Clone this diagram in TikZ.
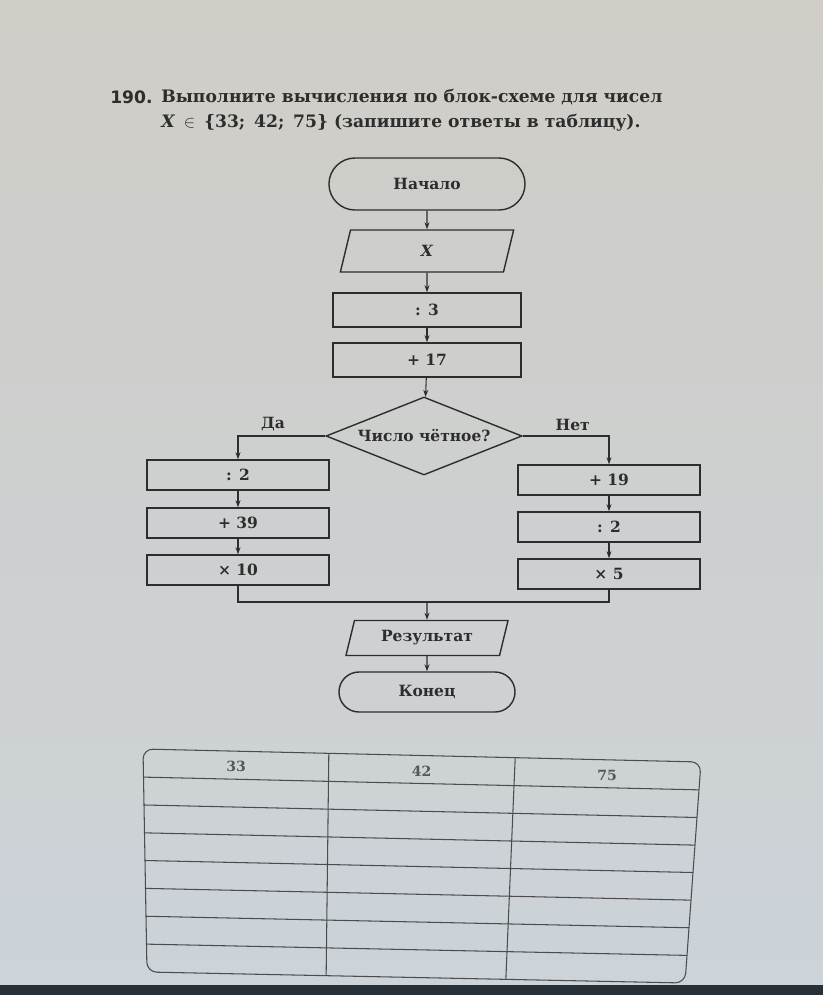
\documentclass[tikz,border=0pt]{standalone}
\usepackage{fontspec}
\setmainfont{DejaVu Serif}
\newfontfamily\numfont{DejaVu Sans}
\usepackage{xcolor}
\usepackage{tikz}
\usetikzlibrary{arrows.meta, positioning, shapes.geometric, calc}

\definecolor{ink}{RGB}{45,45,45}
\definecolor{pagetop}{RGB}{207,205,198}
\definecolor{pagemid}{RGB}{223,225,224}
\definecolor{pagebot}{RGB}{204,211,217}
\definecolor{bezel}{RGB}{38,48,54}

\begin{document}
\begin{tikzpicture}[x=0.025cm, y=-0.025cm,
    sbox/.style={draw=ink, line width=1pt, inner sep=0pt, text=ink,
                 font=\fontsize{11}{13}\selectfont\bfseries},
    wbox/.style={sbox, minimum width=4.7cm, minimum height=0.85cm},
    lbox/.style={sbox, minimum width=4.55cm, minimum height=0.75cm},
    tbox/.style={sbox, rounded corners=0.5cm, minimum width=4.4cm, minimum height=1.0cm},
    iobox/.style={sbox, trapezium, trapezium stretches body},
    dbox/.style={draw=ink, line width=1pt, diamond, inner sep=0pt,
                 minimum width=4.9cm, minimum height=1.95cm},
    myarr/.style={-{Stealth[length=5pt,width=3.5pt]}, line width=0.75pt, draw=ink},
    tline/.style={draw=ink!85, line width=0.75pt},
    hnum/.style={font=\fontsize{10}{12}\selectfont\bfseries, text=ink!80, inner sep=0pt},
    ttl/.style={anchor=west, inner sep=0pt, text=ink, font=\fontsize{12.2}{14}\selectfont\bfseries},
]
\useasboundingbox (0,0) rectangle (823,995);
%% -- Page (photo background) --
\shade[top color=pagetop, middle color=pagemid, bottom color=pagebot] (0,0) rectangle (823,985);
\fill[bezel] (0,985) rectangle (823,995);
%% -- Task text --
\node[ttl, font=\numfont\fontsize{12.2}{14}\selectfont\bfseries] (num) at (110,97){190.};
\node[ttl] (ttl1) at (161,97){Выполните вычисления по блок-схеме для чисел};
\node[ttl] (ttl2) at (161,123){\textit{X}\, $\in$\, \{33;\, 42;\, 75\} (запишите ответы в таблицу).};
%% -- Main column --
\node[tbox, minimum width=4.9cm, minimum height=1.3cm, rounded corners=0.65cm] (start) at (427,184){Начало};
\node[iobox, minimum width=4.33cm, minimum height=1.05cm, trapezium left angle=48, trapezium right angle=132] (inX) at (427,251){\textit{X}};
\node[wbox] (div3) at (427,310){: 3};
\node[wbox] (add17) at (427,360){+ 17};
\node[dbox, label={[sbox, draw=none]center:Число чётное?}] (cond) at (424,436){};
%% -- Left branch (Да) --
\node[lbox] (ldiv2) at (238,475){: 2};
\node[lbox] (ladd39) at (238,523){+ 39};
\node[lbox] (lmul10) at (238,570){× 10};
%% -- Right branch (Нет) --
\node[lbox] (radd19) at (609,480){+ 19};
\node[lbox] (rdiv2) at (609,527){: 2};
\node[lbox] (rmul5) at (609,574){× 5};
%% -- Output and end --
\coordinate (jn) at (427,602);
\node[iobox, minimum width=4.05cm, minimum height=0.875cm, trapezium left angle=60, trapezium right angle=120] (res) at (427,638){Результат};
\node[tbox] (fin) at (427,692){Конец};
%% -- Connectors --
\draw[myarr] (start) -- (inX);
\draw[myarr] (inX) -- (div3);
\draw[myarr] (div3) -- (add17);
\draw[myarr] (add17) -- (cond);
\draw[myarr] (cond.west) -| (ldiv2.north)
  node[pos=0.3, above=3pt, sbox, draw=none]{Да};
\draw[myarr] (cond.east) -| (radd19.north)
  node[pos=0.29, above=3pt, sbox, draw=none]{Нет};
\draw[myarr] (ldiv2) -- (ladd39);
\draw[myarr] (ladd39) -- (lmul10);
\draw[myarr] (radd19) -- (rdiv2);
\draw[myarr] (rdiv2) -- (rmul5);
\draw[line width=0.75pt, ink] (lmul10) |- (jn) -| (rmul5);
\draw[myarr] (jn) -- (res);
\draw[myarr] (res) -- (fin);
%% -- Answer table --
\coordinate (TL) at (143,749);
\coordinate (TR) at (701,762);
\coordinate (BR) at (685,983);
\coordinate (BL) at (147,972);
\draw[tline, rounded corners=7pt] (TL) -- (TR) -- (BR) -- (BL) -- cycle;
\foreach \t in {0.126,0.251,0.376,0.500,0.625,0.750,0.875}{
  \draw[tline] ($(TL)!\t!(BL)$) -- ($(TR)!\t!(BR)$);
}
\foreach \s in {0.333,0.667}{
  \draw[tline] ($(TL)!\s!(TR)$) -- ($(BL)!\s!(BR)$);
}
\foreach \s/\v in {0.1667/33,0.5/42,0.8333/75}{
  \coordinate (tc\v) at ($(TL)!\s!(TR)$);
  \coordinate (bc\v) at ($(BL)!\s!(BR)$);
  \node[hnum] (h\v) at ($(tc\v)!0.07!(bc\v)$){\v};
}
\end{tikzpicture}
\end{document}
